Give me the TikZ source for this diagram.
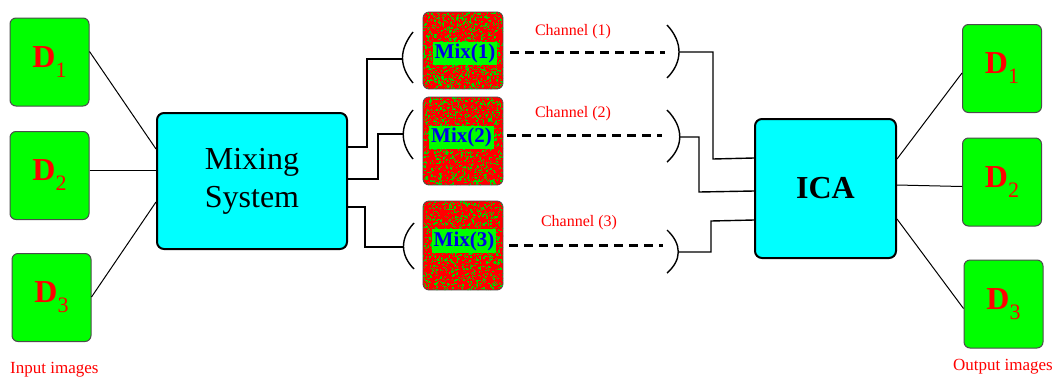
\documentclass[tikz,border=0pt]{standalone}
\usepackage{fontspec}
\setmainfont{Liberation Serif}
\usetikzlibrary{calc}
\definecolor{pgreen}{RGB}{0,255,0}
\definecolor{pcyan}{RGB}{0,255,255}
\definecolor{pred}{RGB}{255,0,0}
\definecolor{pblue}{RGB}{0,0,230}
\newcommand\dlab[1]{{\fontsize{32}{32}\selectfont\bfseries D}\raisebox{-10pt}{\fontsize{22}{22}\selectfont #1}}
\begin{document}
\begin{tikzpicture}[x=1pt,y=-1pt,
  dbox/.style={draw=black!70, line width=1pt, fill=pgreen, rounded corners=6pt, minimum width=79pt, minimum height=88pt, inner sep=0pt, text=pred},
  sysbox/.style={draw=black, line width=2pt, fill=pcyan, rounded corners=7pt, inner sep=0pt},
  mixbox/.style={draw=black!70, line width=0.8pt, rounded corners=6pt, minimum width=80pt, inner sep=0pt},
  wire/.style={line width=1pt, black},
  elbow/.style={line width=1.4pt, black},
  brk/.style={line width=1.4pt, black},
  chan/.style={line width=3pt, dash pattern=on 9pt off 6pt},
  chanlbl/.style={text=pred, font=\fontsize{16}{16}\selectfont, inner sep=0pt},
  caplbl/.style={text=pred, font=\fontsize{17}{17}\selectfont, inner sep=0pt},
  mixlbl/.style={fill=pgreen, text=pblue, font=\fontsize{21}{21}\selectfont\bfseries, inner sep=2pt},
]
\useasboundingbox[fill=white] (0,0) rectangle (1054,378);

% input images
\node[dbox] (in1) at (49.5,62) {\dlab{1}};
\node[dbox] (in2) at (49.5,175.5) {\dlab{2}};
\node[dbox] (in3) at (51.5,297.5) {\dlab{3}};
\node[caplbl, anchor=west] (inlbl) at (10,370) {Input images};

% mixing system
\node[sysbox, minimum width=190pt, minimum height=136pt, align=center, font=\fontsize{32}{38}\selectfont] (mix) at (252,181) {Mixing\\System};

\draw[wire] ($(in1.north east)+(0,34)$) -- ($(mix.north west)+(0,37)$);
\draw[wire] ($(in2.north east)+(0,39)$) -- ($(mix.north west)+(0,58)$);
\draw[wire] ($(in3.north east)+(0,44)$) -- ($(mix.north west)+(0,90)$);

% left brackets
\coordinate (lb1) at (402.5,59);
\coordinate (lb2) at (403,134);
\coordinate (lb3) at (403,247);
\draw[brk] (413,32) .. controls (399,50) and (399,66) .. (413,83);
\draw[brk] (413,110) .. controls (400,126) and (400,143) .. (413,159);
\draw[brk] (414,223) .. controls (400,238) and (400,255) .. (414,269);

\draw[elbow] ($(mix.north east)+(0,35)$) -| (367,59) -- (lb1);
\draw[elbow] ($(mix.north east)+(0,67)$) -| (378,134) -- (lb2);
\draw[elbow] ($(mix.north east)+(0,95)$) -| (365,247) -- (lb3);

% mixture textures
\pgfmathsetseed{7}
\foreach \n/\ya/\hh in {1/12/77, 2/97/88, 3/201/89} {
  \begin{scope}
    \clip[rounded corners=6pt] (423,\ya) rectangle (503,\ya+\hh);
    \fill[pred] (423,\ya) rectangle (503,\ya+\hh);
    \foreach \k in {1,...,1100} {
      \pgfmathsetmacro\rx{423+rnd*80}
      \pgfmathsetmacro\ry{\ya+rnd*\hh}
      \fill[pgreen!85!black] (\rx,\ry) rectangle ++(1.3,1.3);
    }
  \end{scope}
}
\node[mixbox, minimum height=77pt] (mx1) at (463,50.5) {};
\node[mixbox, minimum height=88pt] (mx2) at (463,141) {};
\node[mixbox, minimum height=89pt] (mx3) at (463,245.5) {};
\node[mixlbl] (ml1) at (465,53.5) {Mix(1)};
\node[mixlbl] (ml2) at (461.5,137.5) {Mix(2)};
\node[mixlbl] (ml3) at (464,241) {Mix(3)};

% channels
\coordinate (lc1) at (510,52);  \coordinate (rc1) at (665,52);
\coordinate (lc2) at (507,135); \coordinate (rc2) at (662,135);
\coordinate (lc3) at (509,245); \coordinate (rc3) at (663,245);
\draw[chan] (lc1) -- (rc1);
\draw[chan] (lc2) -- (rc2);
\draw[chan] (lc3) -- (rc3);
\node[chanlbl] (ch1) at (573,32) {Channel (1)};
\node[chanlbl] (ch2) at (573,114) {Channel (2)};
\node[chanlbl] (ch3) at (579,223) {Channel (3)};

% right brackets
\coordinate (rb1) at (679,52);
\coordinate (rb2) at (680,137);
\coordinate (rb3) at (678,252);
\draw[brk] (667,25) .. controls (683,42) and (683,62) .. (667,78);
\draw[brk] (667,110) .. controls (684,127) and (684,147) .. (667,162);
\draw[brk] (667,230) .. controls (682,244) and (682,260) .. (667,273);

% ICA
\node[sysbox, minimum width=141pt, minimum height=139pt, font=\fontsize{32}{32}\selectfont\bfseries] (ica) at (825.5,188.5) {ICA};

\draw[elbow] (rb1) -| (713,159) -- ($(ica.north west)+(0,40)$);
\draw[elbow] (rb2) -| (699,192) -- ($(ica.north west)+(0,73)$);
\draw[elbow] (rb3) -| (711,221) -- ($(ica.north west)+(0,102)$);

% outputs
\node[dbox] (out1) at (1002,68.5) {\dlab{1}};
\node[dbox] (out2) at (1002,182) {\dlab{2}};
\node[dbox] (out3) at (1003.5,304) {\dlab{3}};
\node[caplbl, anchor=east] (outlbl) at (1053,367) {Output images};

\draw[wire] ($(ica.north east)+(0,41)$) -- ($(out1.north west)+(0,49)$);
\draw[wire] ($(ica.north east)+(0,67)$) -- ($(out2.north west)+(0,49)$);
\draw[wire] ($(ica.north east)+(0,101)$) -- ($(out3.north west)+(0,49)$);
\end{tikzpicture}
\end{document}
